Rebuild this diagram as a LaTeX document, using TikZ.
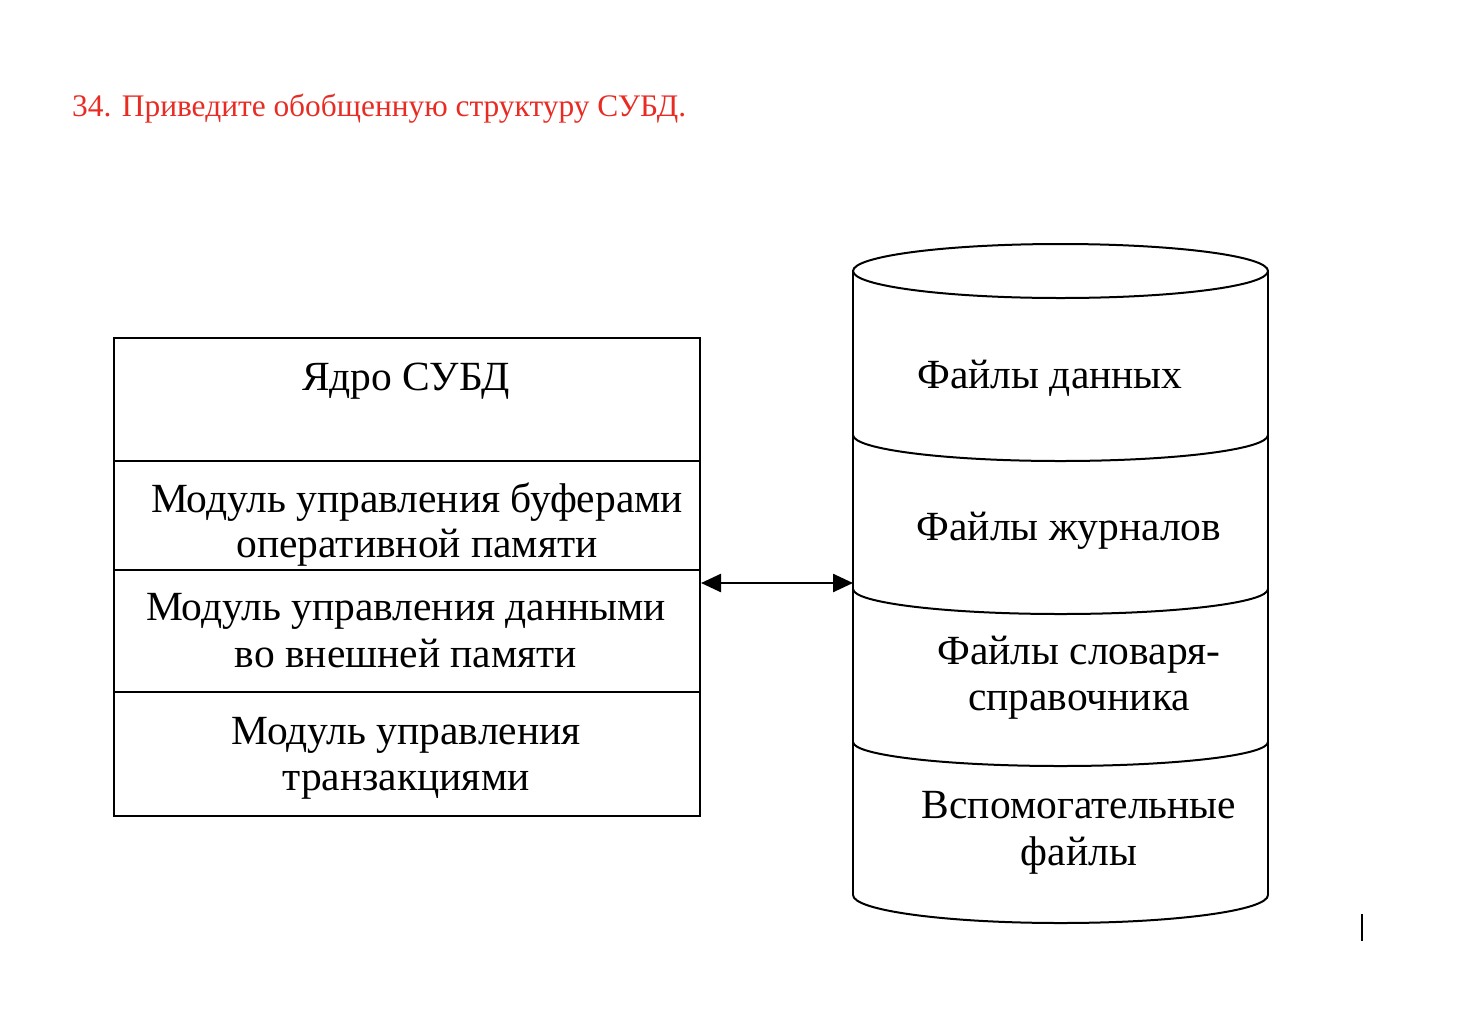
\documentclass[tikz,border=0pt]{standalone}
\usepackage{fontspec}
\setmainfont{Liberation Serif}
\usetikzlibrary{arrows.meta}
\definecolor{titlered}{RGB}{232,44,36}
\begin{document}
\begin{tikzpicture}[x=1pt,y=-1pt,
  rowbox/.style={draw,line width=2pt,minimum width=586pt,inner sep=0pt,anchor=north west},
  lbl/.style={font=\fontsize{41.5}{48}\selectfont,anchor=base,inner sep=0pt},
  ttl/.style={font=\fontsize{31.4}{36}\selectfont,text=titlered,anchor=base west,inner sep=0pt},
  cyl/.style={line width=2pt},
  link/.style={line width=2.5pt,{Triangle[length=20pt,width=18pt]}-{Triangle[length=20pt,width=18pt]}}]
\useasboundingbox (0,0) rectangle (1474,1018);
\node[ttl] (title) at (72,116) {34. Приведите обобщенную структуру СУБД.};
% left stack
\node[rowbox,minimum height=123pt] (r1) at (113,337) {};
\node[rowbox,minimum height=109pt] (r2) at (113,460) {};
\node[rowbox,minimum height=122pt] (r3) at (113,569) {};
\node[rowbox,minimum height=124pt] (r4) at (113,691) {};
\node[lbl] (t1) at (406,390) {Ядро СУБД};
\node[lbl] (t2a) at (417,512) {Модуль управления буферами};
\node[lbl] (t2b) at (417,557) {оперативной памяти};
\node[lbl] (t3a) at (406,620) {Модуль управления данными};
\node[lbl] (t3b) at (406,667) {во внешней памяти};
\node[lbl] (t4a) at (406,744) {Модуль управления};
\node[lbl] (t4b) at (406,790) {транзакциями};
% cylinder
\draw[cyl] (1060.5,271) ellipse [x radius=207.5, y radius=27];
\draw[cyl] (853,271) -- (853,895);
\draw[cyl] (1268,271) -- (1268,895);
\draw[cyl] (853,435) arc[start angle=180,end angle=0,x radius=207.5,y radius=26];
\draw[cyl] (853,589) arc[start angle=180,end angle=0,x radius=207.5,y radius=25];
\draw[cyl] (853,742) arc[start angle=180,end angle=0,x radius=207.5,y radius=24];
\draw[cyl] (853,895) arc[start angle=180,end angle=0,x radius=207.5,y radius=28];
\node[lbl] (c1) at (1050,388) {Файлы данных};
\node[lbl] (c2) at (1069,540) {Файлы журналов};
\node[lbl] (c3a) at (1079,664) {Файлы словаря-};
\node[lbl] (c3b) at (1079,710) {справочника};
\node[lbl] (c4a) at (1079,818) {Вспомогательные};
\node[lbl] (c4b) at (1079,865) {файлы};
% connector
\coordinate (aL) at (r3.east |- 0,583);
\coordinate (aR) at (853,583);
\draw[link] (aL) -- (aR);
% cursor mark
\draw[line width=2.5pt] (1362,914) -- (1362,941);
\end{tikzpicture}
\end{document}
